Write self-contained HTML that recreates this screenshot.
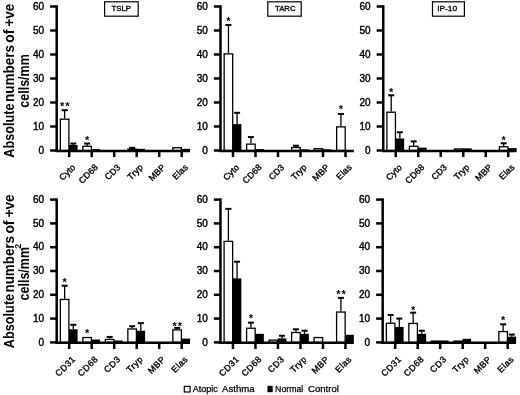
<!DOCTYPE html>
<html><head><meta charset="utf-8"><title>Figure</title>
<style>
html,body{margin:0;padding:0;background:#fff;}
body{width:520px;height:395px;overflow:hidden;}
svg{display:block;filter:grayscale(1);}
text{font-family:"Liberation Sans", sans-serif;fill:#000;}
.tk{font-size:10.0px;text-anchor:end;font-weight:normal;stroke:#000;stroke-width:0.4px;}
.st{font-size:11px;text-anchor:middle;font-weight:bold;letter-spacing:0.9px;}
.cl{font-size:8.8px;text-anchor:end;font-weight:normal;stroke:#000;stroke-width:0.35px;}
.tt{font-size:7.4px;text-anchor:middle;font-weight:normal;stroke:#000;stroke-width:0.3px;}
.yt{font-size:15px;font-weight:bold;}
.sup{font-size:9px;font-weight:bold;}
.lg{font-size:9px;font-weight:normal;stroke:#000;stroke-width:0.25px;}
</style></head>
<body>
<svg width="520" height="395" viewBox="0 0 520 395">
<rect width="520" height="395" fill="#fff"/>
<line x1="56.7" y1="5.25" x2="56.7" y2="151.75" stroke="#000" stroke-width="2.5"/>
<line x1="50.1" y1="150.5" x2="56.7" y2="150.5" stroke="#000" stroke-width="2.5"/>
<text x="44" y="153.7" class="tk">0</text>
<line x1="50.1" y1="126.5" x2="56.7" y2="126.5" stroke="#000" stroke-width="2.5"/>
<text x="44" y="129.7" class="tk">10</text>
<line x1="50.1" y1="102.5" x2="56.7" y2="102.5" stroke="#000" stroke-width="2.5"/>
<text x="44" y="105.7" class="tk">20</text>
<line x1="50.1" y1="78.5" x2="56.7" y2="78.5" stroke="#000" stroke-width="2.5"/>
<text x="44" y="81.7" class="tk">30</text>
<line x1="50.1" y1="54.5" x2="56.7" y2="54.5" stroke="#000" stroke-width="2.5"/>
<text x="44" y="57.7" class="tk">40</text>
<line x1="50.1" y1="30.5" x2="56.7" y2="30.5" stroke="#000" stroke-width="2.5"/>
<text x="44" y="33.7" class="tk">50</text>
<line x1="50.1" y1="6.5" x2="56.7" y2="6.5" stroke="#000" stroke-width="2.5"/>
<text x="44" y="9.7" class="tk">60</text>
<rect x="60.35" y="119.18" width="8.55" height="31.32" fill="#fff" stroke="#000" stroke-width="1.3"/>
<line x1="64.65" y1="110.18" x2="64.65" y2="118.58" stroke="#000" stroke-width="1.3"/>
<line x1="61.65" y1="110.18" x2="67.65" y2="110.18" stroke="#000" stroke-width="2"/>
<rect x="69" y="144.98" width="8.6" height="5.52" fill="#000"/>
<line x1="73.3" y1="143.54" x2="73.3" y2="144.98" stroke="#000" stroke-width="1.3"/>
<line x1="70.3" y1="143.54" x2="76.3" y2="143.54" stroke="#000" stroke-width="2"/>
<text x="65.15" y="109.98" class="st">**</text>
<line x1="69.2" y1="150.5" x2="69.2" y2="157.1" stroke="#000" stroke-width="2.5"/>
<text transform="translate(76.1,167.8) rotate(-45)" class="cl" style="letter-spacing:0.15px">Cyto</text>
<rect x="82.85" y="146.3" width="8.55" height="4.2" fill="#fff" stroke="#000" stroke-width="1.3"/>
<line x1="87.15" y1="143.54" x2="87.15" y2="145.7" stroke="#000" stroke-width="1.3"/>
<line x1="84.15" y1="143.54" x2="90.15" y2="143.54" stroke="#000" stroke-width="2"/>
<rect x="91.5" y="149.06" width="8.6" height="1.44" fill="#000"/>
<text x="87.65" y="143.94" class="st">*</text>
<line x1="91.7" y1="150.5" x2="91.7" y2="157.1" stroke="#000" stroke-width="2.5"/>
<text transform="translate(98.6,167.8) rotate(-45)" class="cl" style="letter-spacing:0.15px">CD68</text>
<line x1="114.2" y1="150.5" x2="114.2" y2="157.1" stroke="#000" stroke-width="2.5"/>
<text transform="translate(121.1,167.8) rotate(-45)" class="cl" style="letter-spacing:0.15px">CD3</text>
<rect x="127.85" y="149.18" width="8.55" height="1.32" fill="#fff" stroke="#000" stroke-width="1.3"/>
<line x1="132.15" y1="147.86" x2="132.15" y2="148.58" stroke="#000" stroke-width="1.3"/>
<line x1="129.15" y1="147.86" x2="135.15" y2="147.86" stroke="#000" stroke-width="2"/>
<rect x="136.5" y="148.82" width="8.6" height="1.68" fill="#000"/>
<line x1="136.7" y1="150.5" x2="136.7" y2="157.1" stroke="#000" stroke-width="2.5"/>
<text transform="translate(143.6,167.8) rotate(-45)" class="cl" style="letter-spacing:0.15px">Tryp</text>
<line x1="159.2" y1="150.5" x2="159.2" y2="157.1" stroke="#000" stroke-width="2.5"/>
<text transform="translate(166.1,167.8) rotate(-45)" class="cl" style="letter-spacing:0.15px">MBP</text>
<rect x="172.85" y="147.74" width="8.55" height="2.76" fill="#fff" stroke="#000" stroke-width="1.3"/>
<rect x="181.5" y="148.82" width="8.6" height="1.68" fill="#000"/>
<line x1="181.7" y1="150.5" x2="181.7" y2="157.1" stroke="#000" stroke-width="2.5"/>
<text transform="translate(188.6,167.8) rotate(-45)" class="cl" style="letter-spacing:0.15px">Elas</text>
<line x1="55.45" y1="150.95" x2="190" y2="150.95" stroke="#000" stroke-width="2.5"/>
<rect x="104.6" y="1.8" width="33.6" height="14.4" fill="#fff" stroke="#000" stroke-width="1.2"/>
<text x="121.25" y="10.9" class="tt" textLength="19.4" lengthAdjust="spacingAndGlyphs">TSLP</text>
<line x1="220.5" y1="5.25" x2="220.5" y2="151.75" stroke="#000" stroke-width="2.5"/>
<line x1="213.9" y1="150.5" x2="220.5" y2="150.5" stroke="#000" stroke-width="2.5"/>
<text x="207.8" y="153.7" class="tk">0</text>
<line x1="213.9" y1="126.5" x2="220.5" y2="126.5" stroke="#000" stroke-width="2.5"/>
<text x="207.8" y="129.7" class="tk">10</text>
<line x1="213.9" y1="102.5" x2="220.5" y2="102.5" stroke="#000" stroke-width="2.5"/>
<text x="207.8" y="105.7" class="tk">20</text>
<line x1="213.9" y1="78.5" x2="220.5" y2="78.5" stroke="#000" stroke-width="2.5"/>
<text x="207.8" y="81.7" class="tk">30</text>
<line x1="213.9" y1="54.5" x2="220.5" y2="54.5" stroke="#000" stroke-width="2.5"/>
<text x="207.8" y="57.7" class="tk">40</text>
<line x1="213.9" y1="30.5" x2="220.5" y2="30.5" stroke="#000" stroke-width="2.5"/>
<text x="207.8" y="33.7" class="tk">50</text>
<line x1="213.9" y1="6.5" x2="220.5" y2="6.5" stroke="#000" stroke-width="2.5"/>
<text x="207.8" y="9.7" class="tk">60</text>
<rect x="224.15" y="53.9" width="8.55" height="96.6" fill="#fff" stroke="#000" stroke-width="1.3"/>
<line x1="228.45" y1="24.98" x2="228.45" y2="53.3" stroke="#000" stroke-width="1.3"/>
<line x1="225.45" y1="24.98" x2="231.45" y2="24.98" stroke="#000" stroke-width="2"/>
<rect x="232.8" y="124.1" width="8.6" height="26.4" fill="#000"/>
<line x1="237.1" y1="112.82" x2="237.1" y2="124.1" stroke="#000" stroke-width="1.3"/>
<line x1="234.1" y1="112.82" x2="240.1" y2="112.82" stroke="#000" stroke-width="2"/>
<text x="228.95" y="25.38" class="st">*</text>
<line x1="233" y1="150.5" x2="233" y2="157.1" stroke="#000" stroke-width="2.5"/>
<text transform="translate(239.9,167.8) rotate(-45)" class="cl" style="letter-spacing:0.15px">Cyto</text>
<rect x="246.65" y="144.14" width="8.55" height="6.36" fill="#fff" stroke="#000" stroke-width="1.3"/>
<line x1="250.95" y1="137.06" x2="250.95" y2="143.54" stroke="#000" stroke-width="1.3"/>
<line x1="247.95" y1="137.06" x2="253.95" y2="137.06" stroke="#000" stroke-width="2"/>
<rect x="255.3" y="149.06" width="8.6" height="1.44" fill="#000"/>
<line x1="255.5" y1="150.5" x2="255.5" y2="157.1" stroke="#000" stroke-width="2.5"/>
<text transform="translate(262.4,167.8) rotate(-45)" class="cl" style="letter-spacing:0.15px">CD68</text>
<line x1="278" y1="150.5" x2="278" y2="157.1" stroke="#000" stroke-width="2.5"/>
<text transform="translate(284.9,167.8) rotate(-45)" class="cl" style="letter-spacing:0.15px">CD3</text>
<rect x="291.65" y="147.5" width="8.55" height="3" fill="#fff" stroke="#000" stroke-width="1.3"/>
<line x1="295.95" y1="145.7" x2="295.95" y2="146.9" stroke="#000" stroke-width="1.3"/>
<line x1="292.95" y1="145.7" x2="298.95" y2="145.7" stroke="#000" stroke-width="2"/>
<rect x="300.3" y="149.3" width="8.6" height="1.2" fill="#000"/>
<line x1="300.5" y1="150.5" x2="300.5" y2="157.1" stroke="#000" stroke-width="2.5"/>
<text transform="translate(307.4,167.8) rotate(-45)" class="cl" style="letter-spacing:0.15px">Tryp</text>
<rect x="314.15" y="148.7" width="8.55" height="1.8" fill="#fff" stroke="#000" stroke-width="1.3"/>
<rect x="322.8" y="149.3" width="8.6" height="1.2" fill="#000"/>
<line x1="323" y1="150.5" x2="323" y2="157.1" stroke="#000" stroke-width="2.5"/>
<text transform="translate(329.9,167.8) rotate(-45)" class="cl" style="letter-spacing:0.15px">MBP</text>
<rect x="336.65" y="126.86" width="8.55" height="23.64" fill="#fff" stroke="#000" stroke-width="1.3"/>
<line x1="340.95" y1="114.02" x2="340.95" y2="126.26" stroke="#000" stroke-width="1.3"/>
<line x1="337.95" y1="114.02" x2="343.95" y2="114.02" stroke="#000" stroke-width="2"/>
<rect x="345.3" y="150.02" width="8.6" height="0.48" fill="#000"/>
<text x="341.45" y="113.32" class="st">*</text>
<line x1="345.5" y1="150.5" x2="345.5" y2="157.1" stroke="#000" stroke-width="2.5"/>
<text transform="translate(352.4,167.8) rotate(-45)" class="cl" style="letter-spacing:0.15px">Elas</text>
<line x1="219.25" y1="150.95" x2="353.8" y2="150.95" stroke="#000" stroke-width="2.5"/>
<rect x="267.8" y="1.8" width="33.4" height="14.4" fill="#fff" stroke="#000" stroke-width="1.2"/>
<text x="285.3" y="10.9" class="tt" textLength="20.6" lengthAdjust="spacingAndGlyphs">TARC</text>
<line x1="383.25" y1="5.25" x2="383.25" y2="151.75" stroke="#000" stroke-width="2.5"/>
<line x1="376.65" y1="150.5" x2="383.25" y2="150.5" stroke="#000" stroke-width="2.5"/>
<text x="370.55" y="153.7" class="tk">0</text>
<line x1="376.65" y1="126.5" x2="383.25" y2="126.5" stroke="#000" stroke-width="2.5"/>
<text x="370.55" y="129.7" class="tk">10</text>
<line x1="376.65" y1="102.5" x2="383.25" y2="102.5" stroke="#000" stroke-width="2.5"/>
<text x="370.55" y="105.7" class="tk">20</text>
<line x1="376.65" y1="78.5" x2="383.25" y2="78.5" stroke="#000" stroke-width="2.5"/>
<text x="370.55" y="81.7" class="tk">30</text>
<line x1="376.65" y1="54.5" x2="383.25" y2="54.5" stroke="#000" stroke-width="2.5"/>
<text x="370.55" y="57.7" class="tk">40</text>
<line x1="376.65" y1="30.5" x2="383.25" y2="30.5" stroke="#000" stroke-width="2.5"/>
<text x="370.55" y="33.7" class="tk">50</text>
<line x1="376.65" y1="6.5" x2="383.25" y2="6.5" stroke="#000" stroke-width="2.5"/>
<text x="370.55" y="9.7" class="tk">60</text>
<rect x="386.9" y="112.22" width="8.55" height="38.28" fill="#fff" stroke="#000" stroke-width="1.3"/>
<line x1="391.2" y1="95.3" x2="391.2" y2="111.62" stroke="#000" stroke-width="1.3"/>
<line x1="388.2" y1="95.3" x2="394.2" y2="95.3" stroke="#000" stroke-width="2"/>
<rect x="395.55" y="138.5" width="8.6" height="12" fill="#000"/>
<line x1="399.85" y1="132.26" x2="399.85" y2="138.5" stroke="#000" stroke-width="1.3"/>
<line x1="396.85" y1="132.26" x2="402.85" y2="132.26" stroke="#000" stroke-width="2"/>
<text x="391.7" y="95.7" class="st">*</text>
<line x1="395.75" y1="150.5" x2="395.75" y2="157.1" stroke="#000" stroke-width="2.5"/>
<text transform="translate(402.65,167.8) rotate(-45)" class="cl" style="letter-spacing:0.15px">Cyto</text>
<rect x="409.4" y="146.3" width="8.55" height="4.2" fill="#fff" stroke="#000" stroke-width="1.3"/>
<line x1="413.7" y1="141.38" x2="413.7" y2="145.7" stroke="#000" stroke-width="1.3"/>
<line x1="410.7" y1="141.38" x2="416.7" y2="141.38" stroke="#000" stroke-width="2"/>
<rect x="418.05" y="147.62" width="8.6" height="2.88" fill="#000"/>
<line x1="418.25" y1="150.5" x2="418.25" y2="157.1" stroke="#000" stroke-width="2.5"/>
<text transform="translate(425.15,167.8) rotate(-45)" class="cl" style="letter-spacing:0.15px">CD68</text>
<line x1="440.75" y1="150.5" x2="440.75" y2="157.1" stroke="#000" stroke-width="2.5"/>
<text transform="translate(447.65,167.8) rotate(-45)" class="cl" style="letter-spacing:0.15px">CD3</text>
<rect x="454.4" y="148.94" width="8.55" height="1.56" fill="#fff" stroke="#000" stroke-width="1.3"/>
<rect x="463.05" y="148.34" width="8.6" height="2.16" fill="#000"/>
<line x1="463.25" y1="150.5" x2="463.25" y2="157.1" stroke="#000" stroke-width="2.5"/>
<text transform="translate(470.15,167.8) rotate(-45)" class="cl" style="letter-spacing:0.15px">Tryp</text>
<line x1="485.75" y1="150.5" x2="485.75" y2="157.1" stroke="#000" stroke-width="2.5"/>
<text transform="translate(492.65,167.8) rotate(-45)" class="cl" style="letter-spacing:0.15px">MBP</text>
<rect x="499.4" y="146.78" width="8.55" height="3.72" fill="#fff" stroke="#000" stroke-width="1.3"/>
<line x1="503.7" y1="143.3" x2="503.7" y2="146.18" stroke="#000" stroke-width="1.3"/>
<line x1="500.7" y1="143.3" x2="506.7" y2="143.3" stroke="#000" stroke-width="2"/>
<rect x="508.05" y="148.1" width="8.6" height="2.4" fill="#000"/>
<text x="504.2" y="143.7" class="st">*</text>
<line x1="508.25" y1="150.5" x2="508.25" y2="157.1" stroke="#000" stroke-width="2.5"/>
<text transform="translate(515.15,167.8) rotate(-45)" class="cl" style="letter-spacing:0.15px">Elas</text>
<line x1="382" y1="150.95" x2="516.55" y2="150.95" stroke="#000" stroke-width="2.5"/>
<rect x="432.5" y="1.8" width="31.9" height="14.4" fill="#fff" stroke="#000" stroke-width="1.2"/>
<text x="447.15" y="10.9" class="tt" textLength="20" lengthAdjust="spacingAndGlyphs">IP-10</text>
<line x1="56.7" y1="198.35" x2="56.7" y2="343.65" stroke="#000" stroke-width="2.5"/>
<line x1="50.1" y1="342.4" x2="56.7" y2="342.4" stroke="#000" stroke-width="2.5"/>
<text x="44" y="345.6" class="tk">0</text>
<line x1="50.1" y1="318.6" x2="56.7" y2="318.6" stroke="#000" stroke-width="2.5"/>
<text x="44" y="321.8" class="tk">10</text>
<line x1="50.1" y1="294.8" x2="56.7" y2="294.8" stroke="#000" stroke-width="2.5"/>
<text x="44" y="298" class="tk">20</text>
<line x1="50.1" y1="271" x2="56.7" y2="271" stroke="#000" stroke-width="2.5"/>
<text x="44" y="274.2" class="tk">30</text>
<line x1="50.1" y1="247.2" x2="56.7" y2="247.2" stroke="#000" stroke-width="2.5"/>
<text x="44" y="250.4" class="tk">40</text>
<line x1="50.1" y1="223.4" x2="56.7" y2="223.4" stroke="#000" stroke-width="2.5"/>
<text x="44" y="226.6" class="tk">50</text>
<line x1="50.1" y1="199.6" x2="56.7" y2="199.6" stroke="#000" stroke-width="2.5"/>
<text x="44" y="202.8" class="tk">60</text>
<rect x="60.35" y="299.45" width="8.55" height="42.95" fill="#fff" stroke="#000" stroke-width="1.3"/>
<line x1="64.65" y1="285.76" x2="64.65" y2="298.85" stroke="#000" stroke-width="1.3"/>
<line x1="61.65" y1="285.76" x2="67.65" y2="285.76" stroke="#000" stroke-width="2"/>
<rect x="69" y="329.31" width="8.6" height="13.09" fill="#000"/>
<line x1="73.3" y1="324.79" x2="73.3" y2="329.31" stroke="#000" stroke-width="1.3"/>
<line x1="70.3" y1="324.79" x2="76.3" y2="324.79" stroke="#000" stroke-width="2"/>
<text x="65.15" y="286.16" class="st">*</text>
<line x1="69.2" y1="342.4" x2="69.2" y2="349" stroke="#000" stroke-width="2.5"/>
<text transform="translate(76,359.8) rotate(-45)" class="cl" style="letter-spacing:0.45px">CD31</text>
<rect x="82.85" y="337.53" width="8.55" height="4.87" fill="#fff" stroke="#000" stroke-width="1.3"/>
<rect x="91.5" y="339.54" width="8.6" height="2.86" fill="#000"/>
<text x="87.65" y="337.33" class="st">*</text>
<line x1="91.7" y1="342.4" x2="91.7" y2="349" stroke="#000" stroke-width="2.5"/>
<text transform="translate(98.5,359.8) rotate(-45)" class="cl" style="letter-spacing:0.45px">CD68</text>
<rect x="105.35" y="339.43" width="8.55" height="2.97" fill="#fff" stroke="#000" stroke-width="1.3"/>
<line x1="109.65" y1="336.93" x2="109.65" y2="338.83" stroke="#000" stroke-width="1.3"/>
<line x1="106.65" y1="336.93" x2="112.65" y2="336.93" stroke="#000" stroke-width="2"/>
<rect x="114" y="340.5" width="8.6" height="1.9" fill="#000"/>
<line x1="114.2" y1="342.4" x2="114.2" y2="349" stroke="#000" stroke-width="2.5"/>
<text transform="translate(121,359.8) rotate(-45)" class="cl" style="letter-spacing:0.45px">CD3</text>
<rect x="127.85" y="328.96" width="8.55" height="13.44" fill="#fff" stroke="#000" stroke-width="1.3"/>
<line x1="132.15" y1="326.22" x2="132.15" y2="328.36" stroke="#000" stroke-width="1.3"/>
<line x1="129.15" y1="326.22" x2="135.15" y2="326.22" stroke="#000" stroke-width="2"/>
<rect x="136.5" y="330.74" width="8.6" height="11.66" fill="#000"/>
<line x1="140.8" y1="323.12" x2="140.8" y2="330.74" stroke="#000" stroke-width="1.3"/>
<line x1="137.8" y1="323.12" x2="143.8" y2="323.12" stroke="#000" stroke-width="2"/>
<line x1="136.7" y1="342.4" x2="136.7" y2="349" stroke="#000" stroke-width="2.5"/>
<text transform="translate(143.5,359.8) rotate(-45)" class="cl" style="letter-spacing:0.45px">Tryp</text>
<line x1="159.2" y1="342.4" x2="159.2" y2="349" stroke="#000" stroke-width="2.5"/>
<text transform="translate(166,359.8) rotate(-45)" class="cl" style="letter-spacing:0.45px">MBP</text>
<rect x="172.85" y="329.91" width="8.55" height="12.49" fill="#fff" stroke="#000" stroke-width="1.3"/>
<line x1="177.15" y1="327.88" x2="177.15" y2="329.31" stroke="#000" stroke-width="1.3"/>
<line x1="174.15" y1="327.88" x2="180.15" y2="327.88" stroke="#000" stroke-width="2"/>
<rect x="181.5" y="338.59" width="8.6" height="3.81" fill="#000"/>
<text x="177.65" y="330.08" class="st">**</text>
<line x1="181.7" y1="342.4" x2="181.7" y2="349" stroke="#000" stroke-width="2.5"/>
<text transform="translate(188.5,359.8) rotate(-45)" class="cl" style="letter-spacing:0.45px">Elas</text>
<line x1="55.45" y1="342.85" x2="190" y2="342.85" stroke="#000" stroke-width="2.5"/>
<line x1="220.45" y1="198.35" x2="220.45" y2="343.65" stroke="#000" stroke-width="2.5"/>
<line x1="213.85" y1="342.4" x2="220.45" y2="342.4" stroke="#000" stroke-width="2.5"/>
<text x="207.75" y="345.6" class="tk">0</text>
<line x1="213.85" y1="318.6" x2="220.45" y2="318.6" stroke="#000" stroke-width="2.5"/>
<text x="207.75" y="321.8" class="tk">10</text>
<line x1="213.85" y1="294.8" x2="220.45" y2="294.8" stroke="#000" stroke-width="2.5"/>
<text x="207.75" y="298" class="tk">20</text>
<line x1="213.85" y1="271" x2="220.45" y2="271" stroke="#000" stroke-width="2.5"/>
<text x="207.75" y="274.2" class="tk">30</text>
<line x1="213.85" y1="247.2" x2="220.45" y2="247.2" stroke="#000" stroke-width="2.5"/>
<text x="207.75" y="250.4" class="tk">40</text>
<line x1="213.85" y1="223.4" x2="220.45" y2="223.4" stroke="#000" stroke-width="2.5"/>
<text x="207.75" y="226.6" class="tk">50</text>
<line x1="213.85" y1="199.6" x2="220.45" y2="199.6" stroke="#000" stroke-width="2.5"/>
<text x="207.75" y="202.8" class="tk">60</text>
<rect x="224.1" y="241.37" width="8.55" height="101.03" fill="#fff" stroke="#000" stroke-width="1.3"/>
<line x1="228.4" y1="208.88" x2="228.4" y2="240.77" stroke="#000" stroke-width="1.3"/>
<line x1="225.4" y1="208.88" x2="231.4" y2="208.88" stroke="#000" stroke-width="2"/>
<rect x="232.75" y="278.38" width="8.6" height="64.02" fill="#000"/>
<line x1="237.05" y1="261.72" x2="237.05" y2="278.38" stroke="#000" stroke-width="1.3"/>
<line x1="234.05" y1="261.72" x2="240.05" y2="261.72" stroke="#000" stroke-width="2"/>
<line x1="232.95" y1="342.4" x2="232.95" y2="349" stroke="#000" stroke-width="2.5"/>
<text transform="translate(239.75,359.8) rotate(-45)" class="cl" style="letter-spacing:0.45px">CD31</text>
<rect x="246.6" y="328.24" width="8.55" height="14.16" fill="#fff" stroke="#000" stroke-width="1.3"/>
<line x1="250.9" y1="322.65" x2="250.9" y2="327.64" stroke="#000" stroke-width="1.3"/>
<line x1="247.9" y1="322.65" x2="253.9" y2="322.65" stroke="#000" stroke-width="2"/>
<rect x="255.25" y="333.83" width="8.6" height="8.57" fill="#000"/>
<text x="251.4" y="321.95" class="st">*</text>
<line x1="255.45" y1="342.4" x2="255.45" y2="349" stroke="#000" stroke-width="2.5"/>
<text transform="translate(262.25,359.8) rotate(-45)" class="cl" style="letter-spacing:0.45px">CD68</text>
<rect x="269.1" y="340.14" width="8.55" height="2.26" fill="#fff" stroke="#000" stroke-width="1.3"/>
<rect x="277.75" y="338.35" width="8.6" height="4.05" fill="#000"/>
<line x1="282.05" y1="335.74" x2="282.05" y2="338.35" stroke="#000" stroke-width="1.3"/>
<line x1="279.05" y1="335.74" x2="285.05" y2="335.74" stroke="#000" stroke-width="2"/>
<line x1="277.95" y1="342.4" x2="277.95" y2="349" stroke="#000" stroke-width="2.5"/>
<text transform="translate(284.75,359.8) rotate(-45)" class="cl" style="letter-spacing:0.45px">CD3</text>
<rect x="291.6" y="332.53" width="8.55" height="9.87" fill="#fff" stroke="#000" stroke-width="1.3"/>
<line x1="295.9" y1="329.31" x2="295.9" y2="331.93" stroke="#000" stroke-width="1.3"/>
<line x1="292.9" y1="329.31" x2="298.9" y2="329.31" stroke="#000" stroke-width="2"/>
<rect x="300.25" y="333.83" width="8.6" height="8.57" fill="#000"/>
<line x1="304.55" y1="330.74" x2="304.55" y2="333.83" stroke="#000" stroke-width="1.3"/>
<line x1="301.55" y1="330.74" x2="307.55" y2="330.74" stroke="#000" stroke-width="2"/>
<line x1="300.45" y1="342.4" x2="300.45" y2="349" stroke="#000" stroke-width="2.5"/>
<text transform="translate(307.25,359.8) rotate(-45)" class="cl" style="letter-spacing:0.45px">Tryp</text>
<rect x="314.1" y="337.53" width="8.55" height="4.87" fill="#fff" stroke="#000" stroke-width="1.3"/>
<line x1="322.95" y1="342.4" x2="322.95" y2="349" stroke="#000" stroke-width="2.5"/>
<text transform="translate(329.75,359.8) rotate(-45)" class="cl" style="letter-spacing:0.45px">MBP</text>
<rect x="336.6" y="312.06" width="8.55" height="30.34" fill="#fff" stroke="#000" stroke-width="1.3"/>
<line x1="340.9" y1="297.89" x2="340.9" y2="311.46" stroke="#000" stroke-width="1.3"/>
<line x1="337.9" y1="297.89" x2="343.9" y2="297.89" stroke="#000" stroke-width="2"/>
<rect x="345.25" y="334.78" width="8.6" height="7.62" fill="#000"/>
<text x="341.4" y="298.29" class="st">**</text>
<line x1="345.45" y1="342.4" x2="345.45" y2="349" stroke="#000" stroke-width="2.5"/>
<text transform="translate(352.25,359.8) rotate(-45)" class="cl" style="letter-spacing:0.45px">Elas</text>
<line x1="219.2" y1="342.85" x2="353.75" y2="342.85" stroke="#000" stroke-width="2.5"/>
<line x1="382.7" y1="198.35" x2="382.7" y2="343.65" stroke="#000" stroke-width="2.5"/>
<line x1="376.1" y1="342.4" x2="382.7" y2="342.4" stroke="#000" stroke-width="2.5"/>
<text x="370" y="345.6" class="tk">0</text>
<line x1="376.1" y1="318.6" x2="382.7" y2="318.6" stroke="#000" stroke-width="2.5"/>
<text x="370" y="321.8" class="tk">10</text>
<line x1="376.1" y1="294.8" x2="382.7" y2="294.8" stroke="#000" stroke-width="2.5"/>
<text x="370" y="298" class="tk">20</text>
<line x1="376.1" y1="271" x2="382.7" y2="271" stroke="#000" stroke-width="2.5"/>
<text x="370" y="274.2" class="tk">30</text>
<line x1="376.1" y1="247.2" x2="382.7" y2="247.2" stroke="#000" stroke-width="2.5"/>
<text x="370" y="250.4" class="tk">40</text>
<line x1="376.1" y1="223.4" x2="382.7" y2="223.4" stroke="#000" stroke-width="2.5"/>
<text x="370" y="226.6" class="tk">50</text>
<line x1="376.1" y1="199.6" x2="382.7" y2="199.6" stroke="#000" stroke-width="2.5"/>
<text x="370" y="202.8" class="tk">60</text>
<rect x="386.35" y="323.25" width="8.55" height="19.15" fill="#fff" stroke="#000" stroke-width="1.3"/>
<line x1="390.65" y1="315.03" x2="390.65" y2="322.65" stroke="#000" stroke-width="1.3"/>
<line x1="387.65" y1="315.03" x2="393.65" y2="315.03" stroke="#000" stroke-width="2"/>
<rect x="395" y="326.93" width="8.6" height="15.47" fill="#000"/>
<line x1="399.3" y1="318.6" x2="399.3" y2="326.93" stroke="#000" stroke-width="1.3"/>
<line x1="396.3" y1="318.6" x2="402.3" y2="318.6" stroke="#000" stroke-width="2"/>
<line x1="395.2" y1="342.4" x2="395.2" y2="349" stroke="#000" stroke-width="2.5"/>
<text transform="translate(402,359.8) rotate(-45)" class="cl" style="letter-spacing:0.45px">CD31</text>
<rect x="408.85" y="323.48" width="8.55" height="18.92" fill="#fff" stroke="#000" stroke-width="1.3"/>
<line x1="413.15" y1="312.65" x2="413.15" y2="322.88" stroke="#000" stroke-width="1.3"/>
<line x1="410.15" y1="312.65" x2="416.15" y2="312.65" stroke="#000" stroke-width="2"/>
<rect x="417.5" y="333.83" width="8.6" height="8.57" fill="#000"/>
<line x1="421.8" y1="330.74" x2="421.8" y2="333.83" stroke="#000" stroke-width="1.3"/>
<line x1="418.8" y1="330.74" x2="424.8" y2="330.74" stroke="#000" stroke-width="2"/>
<text x="413.65" y="313.55" class="st">*</text>
<line x1="417.7" y1="342.4" x2="417.7" y2="349" stroke="#000" stroke-width="2.5"/>
<text transform="translate(424.5,359.8) rotate(-45)" class="cl" style="letter-spacing:0.45px">CD68</text>
<rect x="431.35" y="341.1" width="8.55" height="1.3" fill="#fff" stroke="#000" stroke-width="1.3"/>
<rect x="440" y="340.5" width="8.6" height="1.9" fill="#000"/>
<line x1="440.2" y1="342.4" x2="440.2" y2="349" stroke="#000" stroke-width="2.5"/>
<text transform="translate(447,359.8) rotate(-45)" class="cl" style="letter-spacing:0.45px">CD3</text>
<rect x="453.85" y="341.1" width="8.55" height="1.3" fill="#fff" stroke="#000" stroke-width="1.3"/>
<rect x="462.5" y="338.83" width="8.6" height="3.57" fill="#000"/>
<line x1="462.7" y1="342.4" x2="462.7" y2="349" stroke="#000" stroke-width="2.5"/>
<text transform="translate(469.5,359.8) rotate(-45)" class="cl" style="letter-spacing:0.45px">Tryp</text>
<line x1="485.2" y1="342.4" x2="485.2" y2="349" stroke="#000" stroke-width="2.5"/>
<text transform="translate(492,359.8) rotate(-45)" class="cl" style="letter-spacing:0.45px">MBP</text>
<rect x="498.85" y="331.58" width="8.55" height="10.82" fill="#fff" stroke="#000" stroke-width="1.3"/>
<line x1="503.15" y1="324.31" x2="503.15" y2="330.98" stroke="#000" stroke-width="1.3"/>
<line x1="500.15" y1="324.31" x2="506.15" y2="324.31" stroke="#000" stroke-width="2"/>
<rect x="507.5" y="336.69" width="8.6" height="5.71" fill="#000"/>
<line x1="511.8" y1="334.55" x2="511.8" y2="336.69" stroke="#000" stroke-width="1.3"/>
<line x1="508.8" y1="334.55" x2="514.8" y2="334.55" stroke="#000" stroke-width="2"/>
<text x="503.65" y="324.31" class="st">*</text>
<line x1="507.7" y1="342.4" x2="507.7" y2="349" stroke="#000" stroke-width="2.5"/>
<text transform="translate(514.5,359.8) rotate(-45)" class="cl" style="letter-spacing:0.45px">Elas</text>
<line x1="381.45" y1="342.85" x2="516" y2="342.85" stroke="#000" stroke-width="2.5"/>
<text transform="translate(14,157.8) rotate(-90)" class="yt" textLength="54.4" lengthAdjust="spacingAndGlyphs">Absolute</text>
<text transform="translate(14,102.1) rotate(-90)" class="yt" textLength="57.2" lengthAdjust="spacingAndGlyphs">numbers</text>
<text transform="translate(14,42.8) rotate(-90)" class="yt" textLength="13.1" lengthAdjust="spacingAndGlyphs">of</text>
<text transform="translate(14,26.6) rotate(-90)" class="yt" textLength="22.7" lengthAdjust="spacingAndGlyphs">+ve</text>
<text transform="translate(28.9,107.7) rotate(-90)" class="yt" textLength="53.5" lengthAdjust="spacingAndGlyphs">cells/mm</text>
<text transform="translate(14,348.2) rotate(-90)" class="yt" textLength="54.4" lengthAdjust="spacingAndGlyphs">Absolute</text>
<text transform="translate(14,292.5) rotate(-90)" class="yt" textLength="56.5" lengthAdjust="spacingAndGlyphs">numbers</text>
<text transform="translate(14,233.6) rotate(-90)" class="yt" textLength="13.1" lengthAdjust="spacingAndGlyphs">of</text>
<text transform="translate(14,217.3) rotate(-90)" class="yt" textLength="22.7" lengthAdjust="spacingAndGlyphs">+ve</text>
<text transform="translate(28.7,300.4) rotate(-90)" class="yt" textLength="53.4" lengthAdjust="spacingAndGlyphs">cells/mm</text>
<text transform="translate(21.3,248.8) rotate(-90)" class="sup">2</text>
<rect x="184.3" y="386.4" width="5.8" height="5.6" fill="#fff" stroke="#000" stroke-width="1.2"/>
<rect x="267.4" y="385.8" width="5.3" height="6.4" fill="#000"/>
<text x="192.7" y="392.3" class="lg" textLength="25.2" lengthAdjust="spacingAndGlyphs">Atopic</text>
<text x="222.1" y="392.3" class="lg" textLength="32.5" lengthAdjust="spacingAndGlyphs">Asthma</text>
<text x="275.1" y="392.3" class="lg" textLength="28.2" lengthAdjust="spacingAndGlyphs">Normal</text>
<text x="308" y="392.3" class="lg" textLength="30.9" lengthAdjust="spacingAndGlyphs">Control</text>
</svg>
</body></html>
